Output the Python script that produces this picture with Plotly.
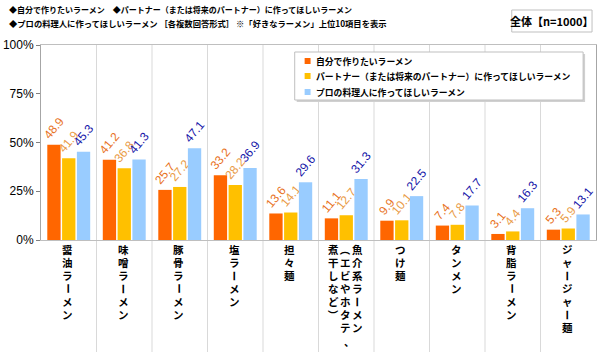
import plotly.graph_objects as go

categories = ["醤油ラーメン", "味噌ラーメン", "豚骨ラーメン", "塩ラーメン", "担々麺",
              "魚介系ラーメン（エビやホタテ、煮干しなど）", "つけ麺", "タンメン", "背脂ラーメン", "ジャージャー麺"]
label_columns = [["醤油ラーメン"], ["味噌ラーメン"], ["豚骨ラーメン"], ["塩ラーメン"], ["担々麺"],
                 ["魚介系ラーメン", "（エビやホタテ、", "煮干しなど）"], ["つけ麺"], ["タンメン"],
                 ["背脂ラーメン"], ["ジャージャー麺"]]
series_names = ["自分で作りたいラーメン", "パートナー（または将来のパートナー）に作ってほしいラーメン",
                "プロの料理人に作ってほしいラーメン"]
self_vals = [48.9, 41.2, 25.7, 33.2, 13.6, 11.1, 9.9, 7.4, 3.1, 5.3]
partner_vals = [41.9, 36.8, 27.2, 28.2, 14.1, 12.7, 10.1, 7.8, 4.4, 5.9]
pro_vals = [45.3, 41.3, 47.1, 36.9, 29.6, 31.3, 22.5, 17.7, 16.3, 13.1]
y_ticks = [0, 25, 50, 75, 100]
y_tick_labels = ["0%", "25%", "50%", "75%", "100%"]
title_lines = ["◆自分で作りたいラーメン　◆パートナー（または将来のパートナー）に作ってほしいラーメン",
               "◆プロの料理人に作ってほしいラーメン ［各複数回答形式］ ※「好きなラーメン」上位10項目を表示"]
sample_label = "全体【n=1000】"

bar_colors = ["#FF6600", "#FFC000", "#99CCFF"]
text_colors = ["#E8711C", "#E99A45", "#1414A8"]
CJK = "Noto Sans CJK JP"
NUM = "Liberation Sans"
LABEL_FONT = "Liberation Sans, Noto Sans CJK JP"

W, H = 600, 352
L, R, T, B = 37, 3, 45, 112
plot_w = W - L - R
plot_h = H - T - B


def px_x(px):
    return (px - L) / plot_w


def px_y(py):
    return ((H - B) - py) / plot_h


fig = go.Figure()
for name, vals, bc, tc in zip(series_names, [self_vals, partner_vals, pro_vals], bar_colors, text_colors):
    fig.add_trace(go.Bar(
        x=list(range(len(categories))), y=vals, name=name,
        marker=dict(color=bc, line=dict(width=0)),
        text=[f"{v:.1f}" for v in vals], textposition="outside", textangle=-50,
        textfont=dict(family=NUM, size=12, color=tc),
        constraintext="none", cliponaxis=False,
        hovertext=categories, showlegend=False,
    ))

shapes = []
# category divider lines extending into label area
for k in range(1, len(categories)):
    shapes.append(dict(type="line", xref="x", yref="paper", x0=k - 0.5, x1=k - 0.5,
                       y0=-B / plot_h, y1=1, line=dict(color="#D9D9D9", width=1), layer="below"))
# sample size box
shapes.append(dict(type="rect", xref="paper", yref="paper",
                   x0=px_x(512), x1=px_x(593), y0=px_y(32), y1=px_y(10),
                   line=dict(color="#BFBFBF", width=1), fillcolor="white"))
# legend box (shadow + box)
shapes.append(dict(type="rect", xref="paper", yref="paper",
                   x0=px_x(295), x1=px_x(586), y0=px_y(102), y1=px_y(54),
                   line=dict(width=0), fillcolor="#D0D0D0", layer="above"))
shapes.append(dict(type="rect", xref="paper", yref="paper",
                   x0=px_x(293), x1=px_x(584), y0=px_y(100), y1=px_y(52),
                   line=dict(color="#BFBFBF", width=1), fillcolor="white", layer="above"))

annotations = []
legend_rows = [61, 76, 92]
for name, bc, ry in zip(series_names, bar_colors, legend_rows):
    shapes.append(dict(type="rect", xref="paper", yref="paper",
                       x0=px_x(303), x1=px_x(309), y0=px_y(ry + 3), y1=px_y(ry - 3),
                       line=dict(width=0), fillcolor=bc, layer="above"))
    annotations.append(dict(x=px_x(312), xref="paper", y=px_y(ry), yref="paper",
                            xanchor="left", yanchor="middle", showarrow=False,
                            text=f"<b>{name}</b>", font=dict(family=CJK, size=8.8, color="#000000")))

# vertical category labels, one annotation per character
col_offsets = {1: [-1], 3: [11, -1, -13]}
for i, cols in enumerate(label_columns):
    offs = col_offsets.get(len(cols), [0])
    for ci, col in enumerate(cols):
        for j, ch in enumerate(col):
            ang = 90 if ch in "ー（）" else 0
            xs = offs[ci]
            ys = 0
            if ch == "、":
                xs += 4
                ys = -1
            annotations.append(dict(
                x=i, xref="x", y=px_y(250 + 13 * j), yref="paper",
                text=f"<b>{ch}</b>", showarrow=False, textangle=ang,
                xshift=xs, yshift=ys, xanchor="center", yanchor="middle",
                borderpad=0,
                font=dict(family=LABEL_FONT, size=10.5, color="#000000"),
            ))

for line, cy, fs in zip(title_lines, [9, 23], [8.0, 8.3]):
    annotations.append(dict(
        x=px_x(3), xref="paper", y=px_y(cy), yref="paper",
        xanchor="left", yanchor="middle", align="left", showarrow=False,
        text=f"<b>{line}</b>", font=dict(family=CJK, size=fs, color="#000000"),
    ))
annotations.append(dict(
    x=px_x(552.5), xref="paper", y=px_y(21), yref="paper",
    xanchor="center", yanchor="middle", showarrow=False,
    text=f"<b>{sample_label}</b>", font=dict(family=CJK, size=11, color="#000000"),
))

fig.update_layout(
    width=W, height=H, margin=dict(l=L, r=R, t=T, b=B, pad=0),
    paper_bgcolor="white", plot_bgcolor="white",
    barmode="group", bargap=0.2, bargroupgap=0.1,
    showlegend=False,
    xaxis=dict(range=[-0.5, len(categories) - 0.5], showticklabels=False, ticks="",
               showgrid=False, zeroline=False, showline=True, linecolor="#BFBFBF",
               linewidth=1, mirror=True, fixedrange=True),
    yaxis=dict(range=[0, 100], tickvals=y_ticks, ticktext=y_tick_labels, ticks="outside",
               ticklen=4, tickcolor="#808080", showgrid=False, zeroline=False,
               showline=True, linecolor="#A6A6A6", linewidth=1, mirror=True,
               tickfont=dict(family=NUM, size=12, color="#000000"), fixedrange=True),
    shapes=shapes, annotations=annotations,
    font=dict(family=CJK),
)

fig.write_html("out.html")
